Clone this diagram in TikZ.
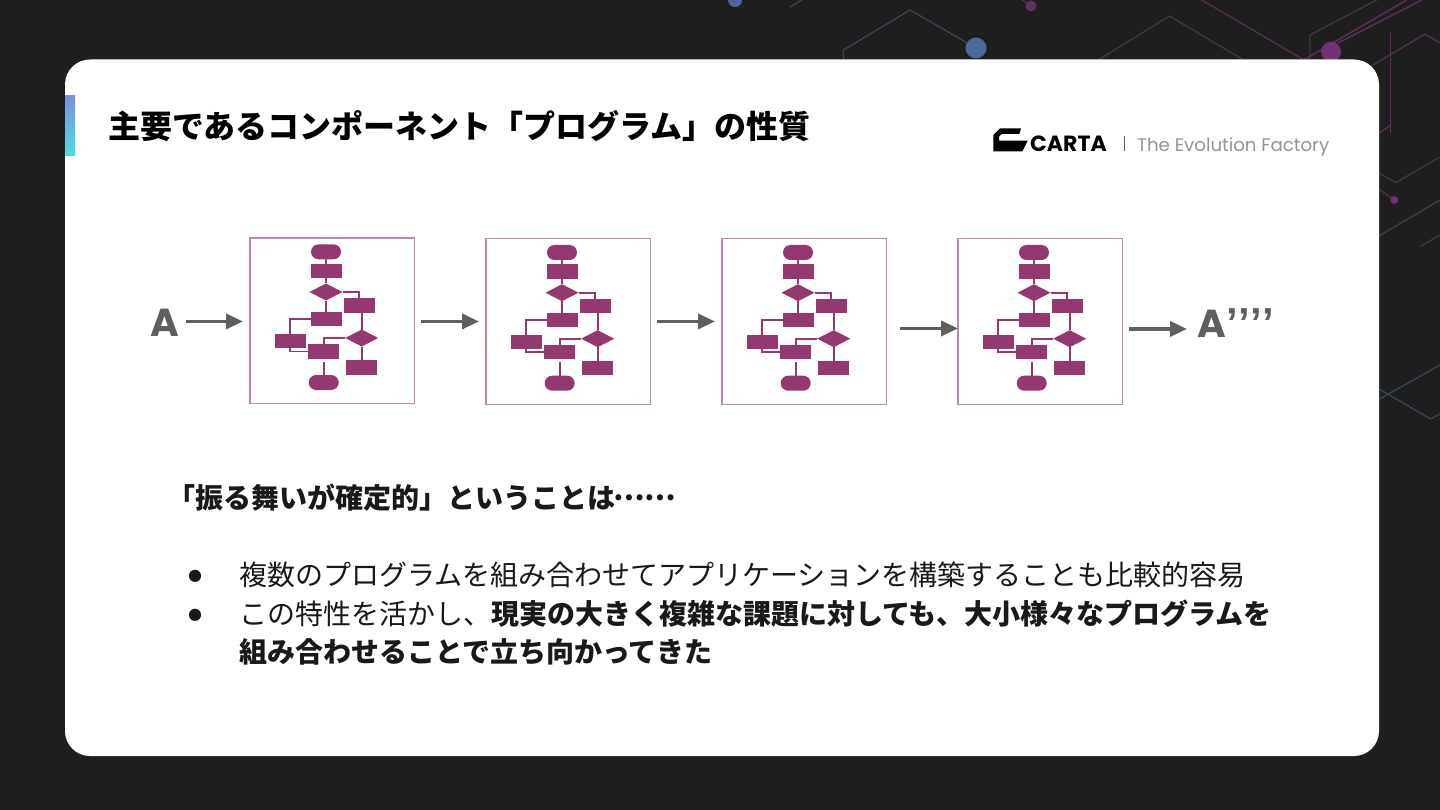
\documentclass[tikz,border=0pt]{standalone}
\usepackage{fontspec}
\setmainfont{Noto Sans CJK JP}
\newfontfamily\cjk{Noto Sans CJK JP}
\newfontfamily\logofont{Poppins}
\newfontfamily\primefont{Liberation Sans}
\newfontfamily\bulletfont{DejaVu Sans}
\usetikzlibrary{arrows.meta,shapes.geometric,shapes.misc}
\definecolor{bgdark}{HTML}{1F1F1F}
\definecolor{flowc}{HTML}{93396F}
\definecolor{framec}{HTML}{B88BAD}
\definecolor{arrowc}{HTML}{5F5F5F}
\definecolor{lineblue}{HTML}{38475C}
\definecolor{linemauve}{HTML}{4A344D}
\definecolor{linepurple}{HTML}{5C2F58}
\definecolor{dotblue}{HTML}{4C6896}
\definecolor{dotpurple}{HTML}{6F3272}
\definecolor{bartop}{HTML}{7C8FDC}
\definecolor{barbottom}{HTML}{4DDDE0}
\tikzset{
  fbox/.style={draw=none,fill=flowc,inner sep=0pt,outer sep=0pt,minimum width=31pt,minimum height=14.5pt},
  fdecide/.style={diamond,draw=none,fill=flowc,inner sep=0pt,outer sep=0pt,minimum width=33pt,minimum height=17pt},
  fend/.style={rounded rectangle,draw=none,fill=flowc,inner sep=0pt,outer sep=0pt,minimum width=30pt,minimum height=15pt},
  fline/.style={draw=flowc,line width=1.7pt},
  bigarrow/.style={-{Triangle[length=17pt,width=15pt]},draw=arrowc,line width=3.6pt},
  pics/flowchart/.style={code={
    \node[draw=framec,line width=1.3pt,inner sep=0pt,outer sep=0pt,minimum width=164.4pt,minimum height=165.5pt,anchor=north west] (frame) at (0,0) {};
    \node[fend] (top) at (76,13.8) {};
    \node[fbox] (boxa) at (76,32.8) {};
    \node[fdecide] (deca) at (76,54) {};
    \node[fbox] (boxb) at (109,67.3) {};
    \node[fbox] (boxc) at (76,81.2) {};
    \node[fbox] (boxd) at (40,103.2) {};
    \node[fbox] (boxe) at (73.7,113.5) {};
    \node[fdecide] (decb) at (111.7,100) {};
    \node[fbox] (boxf) at (111.3,129.5) {};
    \node[fend] (bottom) at (73.7,144.5) {};
    \draw[fline] (top)--(boxa);
    \draw[fline] (boxa)--(deca);
    \draw[fline] (deca)--(boxc);
    \draw[fline] (deca.east)-|(boxb.north);
    \draw[fline] (decb.north)--(decb.north|-boxb.south);
    \draw[fline] (decb)--(decb|-boxf.north);
    \draw[fline] (boxc.west)-|(boxd.north);
    \draw[fline] (boxd.south)|-(boxe.west);
    \draw[fline] (decb.west)-|(boxe.north);
    \draw[fline,shorten <=3pt] (boxe)--(bottom);
  }}
}
\begin{document}
\begin{tikzpicture}[x=1pt,y=-1pt]
\useasboundingbox (0,0) rectangle (1440,810);
\fill[bgdark] (0,0) rectangle (1440,810);
% lines behind the card
\begin{scope}[line width=1.2pt]
  \draw[lineblue] (843.5,62)--(843.5,50)--(910,10)--(976,48);
  \draw[lineblue] (790,7)--(802,0);
  \draw[linemauve] (1095,62)--(1169.5,16)--(1247,62);
  \draw[linepurple] (1201.7,0)--(1304,60);
  \draw[linemauve] (1310,60)--(1310,35)--(1376.7,0);
  \draw[linepurple,line width=1.5pt] (1300,62)--(1406.7,0);
  \draw[linepurple,line width=1.5pt] (1338,43)--(1421.7,0);
  \draw[linepurple] (1373,65)--(1425,34)--(1440,43);
  \draw[linepurple,line width=1.5pt] (1390.7,32)--(1390.7,133);
  \draw[linepurple] (1379,133)--(1391,125);
  \draw[linemauve] (1379,173)--(1395.7,182.7)--(1440,157);
  \draw[linemauve] (1379,189)--(1394.3,200);
  \draw[linemauve,line width=1.5pt] (1379,236)--(1440,200);
  \draw[linemauve] (1420,246.7)--(1440,235);
  \draw[lineblue] (1379,399.3)--(1440,365);
  \draw[lineblue] (1379,389)--(1430.7,419)--(1440,414);
  \draw[linemauve] (1022,0)--(1031,6);
\end{scope}
\fill[dotblue] (735,0) circle (7);
\fill[linemauve!60!dotpurple] (1031,6) circle (5.5);
\fill[dotblue] (976,48) circle (10.5);
\fill[dotpurple] (1331,51.7) circle (10);
\fill[dotpurple] (1394.3,200) circle (4);
% card
\fill[white,rounded corners=25pt] (65,59.5) rectangle (1379,756);
\shade[top color=bartop,bottom color=barbottom] (65,96) rectangle (75,156);
% title and logo
\node[anchor=base west,inner sep=0pt,text=black] (title) at (108,138.5) {\fontsize{32}{32}\selectfont\bfseries 主要であるコンポーネント「プログラム」の性質};
\fill[black] (993.3,135)--(1000,128.3)--(1021,128.3)--(1019.3,134)--(1001.7,134)--(999,136.7)--(999,140.7)--(1027.7,140.7)--(1022.3,151.5)--(993.3,151.5)--cycle;
\node[anchor=base west,inner sep=0pt,text=black] (carta) at (1030,151.7) {\logofont\fontsize{22}{22}\selectfont\bfseries CARTA};
\draw[arrowc,line width=.8pt] (1124,136)--(1124,151);
\node[anchor=base west,inner sep=0pt,text=black!42] (factory) at (1137,151.7) {\logofont\fontsize{18.2}{18.2}\selectfont The Evolution Factory};
% flowcharts
\foreach \idx/\fx/\fy in {1/250/238,2/486/238.7,3/722/238.7,4/958/238.7}
  \pic (f\idx) at (\fx,\fy) {flowchart};
\node[anchor=base west,inner sep=0pt,text=arrowc] (start) at (150,336) {\logofont\fontsize{39}{39}\selectfont\bfseries A};
\node[anchor=base west,inner sep=0pt,text=arrowc] (result) at (1197,337) {\logofont\fontsize{39}{39}\selectfont\bfseries A\primefont\bfseries\fontsize{42}{42}\selectfont\kern.5pt ’\kern.4pt’\kern.4pt’\kern.4pt’};
\draw[bigarrow,shorten <=7pt,shorten >=7pt] (start.east|-f2frame.west)--(f1frame.west|-f2frame.west);
\draw[bigarrow,shorten <=7pt,shorten >=7pt] (f1frame.east|-f2frame.west)--(f2frame.west);
\draw[bigarrow,shorten <=7pt,shorten >=7pt] (f2frame.east)--(f3frame.west);
\draw[bigarrow,shorten <=14pt] ([yshift=-7pt]f3frame.east)--([yshift=-7pt]f4frame.west);
\draw[bigarrow,shorten <=7pt,shorten >=10pt] ([yshift=-7.5pt]f4frame.east)--([yshift=-7.5pt]f4frame.east-|result.west);
% text below
\node[anchor=base west,inner sep=0pt,text=black!90] (lead) at (167,508) {\fontsize{28}{28}\selectfont\bfseries 「振る舞いが確定的」ということは\kern-2pt\raisebox{8pt}{……}};
\node[inner sep=0pt,text=black!90] (dota) at (195,576.5) {\bulletfont\fontsize{16}{16}\selectfont ●};
\node[inner sep=0pt,text=black!90] (dotb) at (195,615) {\bulletfont\fontsize{16}{16}\selectfont ●};
\node[anchor=base west,inner sep=0pt,text=black!90] (linea) at (239,585) {\fontsize{28}{28}\selectfont 複数のプログラムを組み合わせてアプリケーションを構築することも比較的容易};
\node[anchor=base west,inner sep=0pt,text=black!90] (lineb) at (239,624) {\fontsize{28}{28}\selectfont この特性を活かし、\bfseries 現実の大きく複雑な課題に対しても、大小様々なプログラムを};
\node[anchor=base west,inner sep=0pt,text=black!90] (linec) at (239,662) {\fontsize{28}{28}\selectfont\bfseries 組み合わせることで立ち向かってきた};
\end{tikzpicture}
\end{document}
